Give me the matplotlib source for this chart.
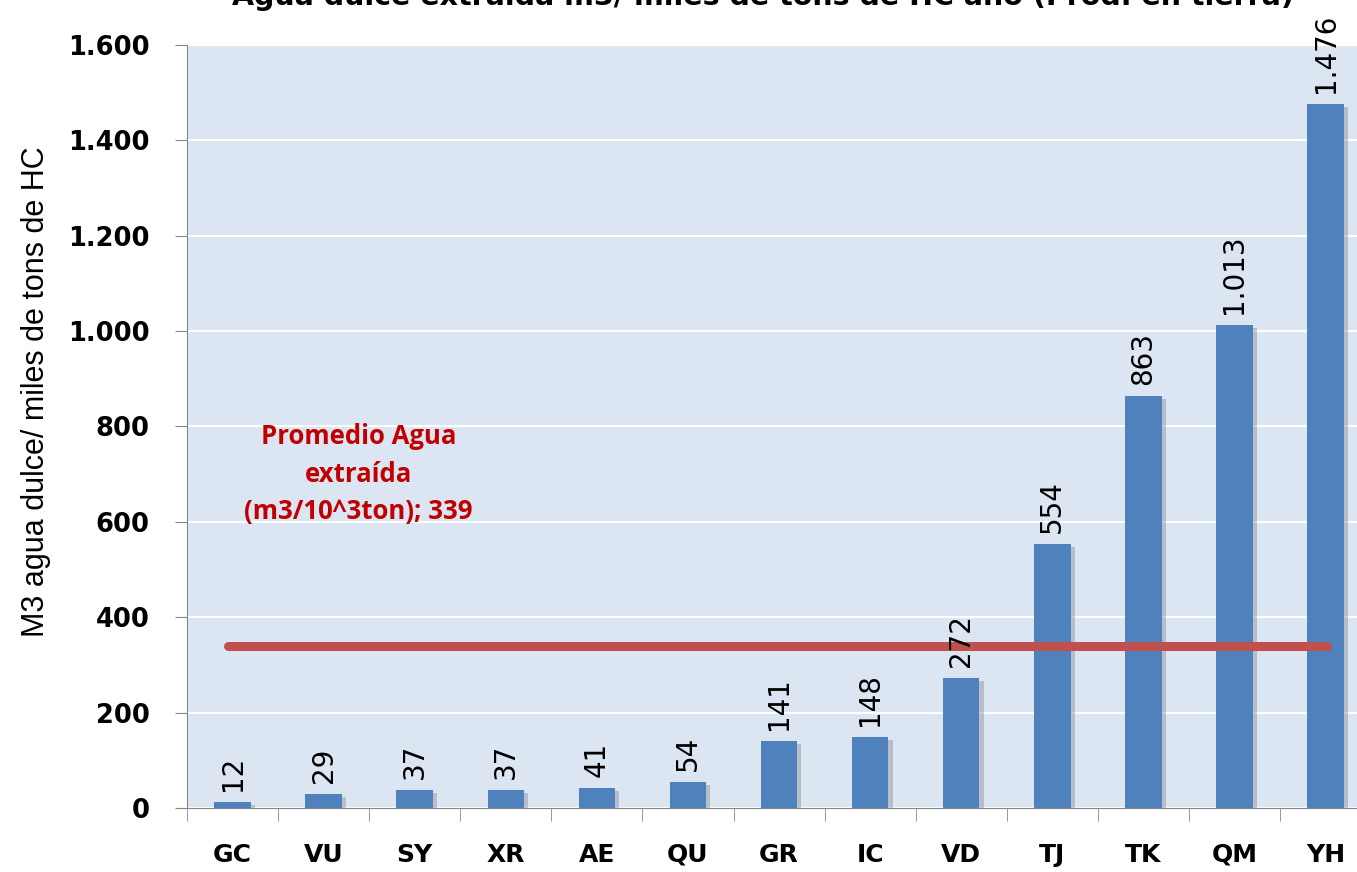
import numpy as np
import matplotlib.pyplot as plt
import matplotlib.patheffects as pe

# datos
categorias = ["GC", "VU", "SY", "XR", "AE", "QU", "GR", "IC", "VD", "TJ", "TK", "QM", "YH"]
valores = [12, 29, 37, 37, 41, 54, 141, 148, 272, 554, 863, 1013, 1476]
promedio = 339
y_ticks = [0, 200, 400, 600, 800, 1000, 1200, 1400, 1600]
y_tick_labels = ["0", "200", "400", "600", "800", "1.000", "1.200", "1.400", "1.600"]
titulo = "Agua dulce extraída m3/ miles de tons de HC año (Prod. en tierra)"
etiqueta_y = "M3 agua dulce/ miles de tons de HC"
texto_promedio = "Promedio Agua\nextraída\n(m3/10^3ton); 339"


def fmt(v):
    # separador de miles con punto
    return f"{v:,}".replace(",", ".")


fig = plt.figure(figsize=(13.57, 8.72), dpi=100)
ax = fig.add_axes([0.1378, 0.0734, 0.8726, 0.875])
ax.set_facecolor("#DCE6F2")

x = np.arange(len(categorias))
bars = ax.bar(x, valores, width=0.4, color="#4F81BD", zorder=3)
for b in bars:
    b.set_path_effects([pe.SimplePatchShadow(offset=(3, -2), shadow_rgbFace="#8a8f99", alpha=0.45), pe.Normal()])

for xi, v in zip(x, valores):
    ax.annotate(fmt(v), (xi, v), xytext=(0, 8), textcoords="offset points",
                rotation=90, ha="center", va="bottom", fontsize=20, family="DejaVu Sans", zorder=5)

# línea de promedio
ax.plot([-0.05, 12.02], [promedio, promedio], color="#C0504D", lw=6.5, solid_capstyle="round", zorder=4)
ax.text(1.38, 700, texto_promedio, color="#C00000", fontsize=18.5, fontweight="bold",
        ha="center", va="center", family="Open Sans", linespacing=1.5)

ax.set_xlim(-0.5, 12.5)
ax.set_ylim(0, 1600)
ax.set_yticks(y_ticks)
ax.set_yticklabels(y_tick_labels, fontsize=18.5, fontweight="bold")
ax.set_xticks(x)
ax.set_xticklabels(categorias, fontsize=18, fontweight="bold")
ax.set_xticks(np.arange(-0.5, 12.6, 1), minor=True)
ax.tick_params(axis="x", which="major", length=0, pad=25)
ax.tick_params(axis="x", which="minor", length=9, color="#868686")
ax.tick_params(axis="y", length=9, color="#868686", pad=18)
ax.grid(axis="y", color="white", lw=1.5, zorder=0)
ax.set_axisbelow(True)

for s in ["top", "right"]:
    ax.spines[s].set_visible(False)
ax.spines["left"].set_color("#868686")
ax.spines["bottom"].set_color("#868686")

ax.set_ylabel(etiqueta_y, fontsize=22, family=["Liberation Sans Narrow", "Liberation Sans"], labelpad=12)
ax.yaxis.label.set_y(0.545)

fig.text(0.562, 1.004, titulo, ha="center", va="center", fontsize=20.5, fontweight="bold")

fig.savefig("out.png", dpi=100)
